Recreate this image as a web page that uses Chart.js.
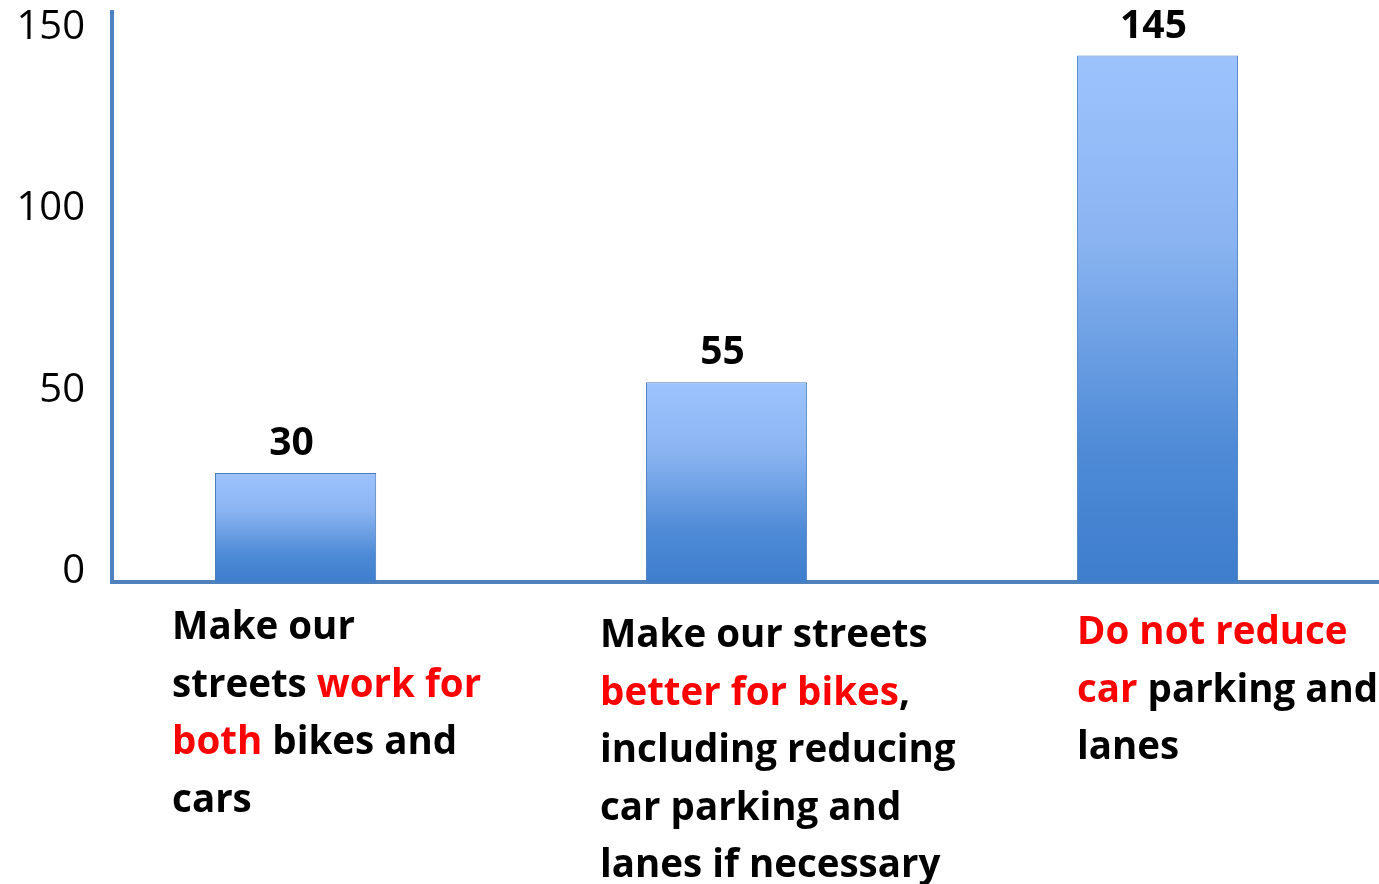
<!DOCTYPE html>
<html>
<head>
<meta charset="utf-8">
<script src="https://cdn.jsdelivr.net/npm/chart.js@4/dist/chart.umd.min.js"></script>
<style>
  html, body { margin: 0; padding: 0; background: #fff; }
  #wrap { width: 1379px; height: 884px; }
</style>
</head>
<body>
<div id="wrap"><canvas id="chart"></canvas></div>
<script>
// data
const categories = [
    'Make our streets work for both bikes and cars',
    'Make our streets better for bikes, including reducing car parking and lanes if necessary',
    'Do not reduce car parking and lanes'
];
const votes = [30, 55, 145];
const yTicks = [0, 50, 100, 150];

// category text split in lines, each piece is [text, highlighted]
const labelLines = [
    [
        [['Make our', 0]],
        [['streets ', 0], ['work for', 1]],
        [['both', 1], [' bikes and', 0]],
        [['cars', 0]]
    ],
    [
        [['Make our streets', 0]],
        [['better for bikes', 1], [',', 0]],
        [['including reducing', 0]],
        [['car parking and', 0]],
        [['lanes if necessary', 0]]
    ],
    [
        [['Do not reduce', 1]],
        [['car', 1], [' parking and', 0]],
        [['lanes', 0]]
    ]
];

const FONT = '"Open Sans", "DejaVu Sans", sans-serif';

// draws the multi colour labels under each bar
const richLabels = {
    id: 'richLabels',
    afterDraw(chart, args, opts) {
        const ctx = chart.ctx;
        const xs = chart.scales.x;
        ctx.save();
        ctx.font = 'bold ' + opts.size + 'px ' + FONT;
        ctx.textAlign = 'left';
        ctx.textBaseline = 'alphabetic';
        labelLines.forEach((lines, i) => {
            const left = xs.getPixelForValue(i) + opts.shift[i];
            let base = xs.top + opts.drop[i];
            lines.forEach(line => {
                let x = left;
                line.forEach(([txt, hot]) => {
                    ctx.fillStyle = hot ? '#FF0000' : '#000000';
                    ctx.fillText(txt, x, base);
                    x += ctx.measureText(txt).width;
                });
                base += opts.lineHeight;
            });
        });
        ctx.restore();
    }
};

// value above every bar
const valueLabels = {
    id: 'valueLabels',
    afterDatasetsDraw(chart) {
        const ctx = chart.ctx;
        const meta = chart.getDatasetMeta(0);
        ctx.save();
        ctx.font = 'bold 39px ' + FONT;
        ctx.fillStyle = '#000';
        ctx.textAlign = 'center';
        ctx.textBaseline = 'alphabetic';
        meta.data.forEach((bar, i) => {
            ctx.fillText(String(votes[i]), bar.x - 4, bar.y - 18);
        });
        ctx.restore();
    }
};

function barGradient(c) {
    const chart = c.chart;
    if (!chart.chartArea || c.dataIndex === undefined) return '#6A9FE6';
    const y = chart.scales.y;
    const top = y.getPixelForValue(votes[c.dataIndex]);
    const bottom = y.getPixelForValue(0);
    const g = chart.ctx.createLinearGradient(0, top, 0, bottom);
    g.addColorStop(0, '#9DC3FD');
    g.addColorStop(0.35, '#8AB4F1');
    g.addColorStop(0.75, '#4E8AD6');
    g.addColorStop(1, '#3E7ECD');
    return g;
}

const ctx = document.getElementById('chart').getContext('2d');
new Chart(ctx, {
    type: 'bar',
    data: {
        labels: categories,
        datasets: [{
            data: votes.map((v, i) => ({ x: i, y: v })),
            backgroundColor: barGradient,
            borderColor: '#4A7EBB',
            borderWidth: 1,
            categoryPercentage: 1,
            barPercentage: 0.374
        }]
    },
    options: {
        responsive: true,
        maintainAspectRatio: false,
        animation: false,
        layout: { padding: { top: 12, left: 0, right: 0, bottom: 0 } },
        plugins: {
            legend: { display: false },
            tooltip: { enabled: false },
            richLabels: {
                size: 38.5,
                lineHeight: 57.5,
                shift: [-123.5, -126.5, -80.5],
                drop: [57, 65, 62]
            }
        },
        scales: {
            x: {
                type: 'linear',
                min: -0.426,
                max: 2.514,
                offset: false,
                grid: { display: false, drawTicks: false },
                border: { display: true, color: '#4F81BD', width: 4 },
                ticks: { display: false },
                // one tick per category so the bar width follows the category spacing
                afterBuildTicks: s => { s.ticks = categories.map((c, i) => ({ value: i })); },
                afterFit: s => { s.height = 302; s.paddingLeft = 0; s.paddingRight = 0; }
            },
            y: {
                min: 0,
                max: 157,
                grid: { display: false, drawTicks: false },
                border: { display: true, color: '#4F81BD', width: 4 },
                afterBuildTicks: s => { s.ticks = yTicks.map(v => ({ value: v })); },
                ticks: {
                    color: '#000',
                    padding: 27,
                    labelOffset: -10,
                    font: { family: FONT, size: 40 }
                },
                afterFit: s => { s.width = 112; s.paddingTop = 0; s.paddingBottom = 0; }
            }
        }
    },
    plugins: [richLabels, valueLabels]
});
</script>
</body>
</html>
